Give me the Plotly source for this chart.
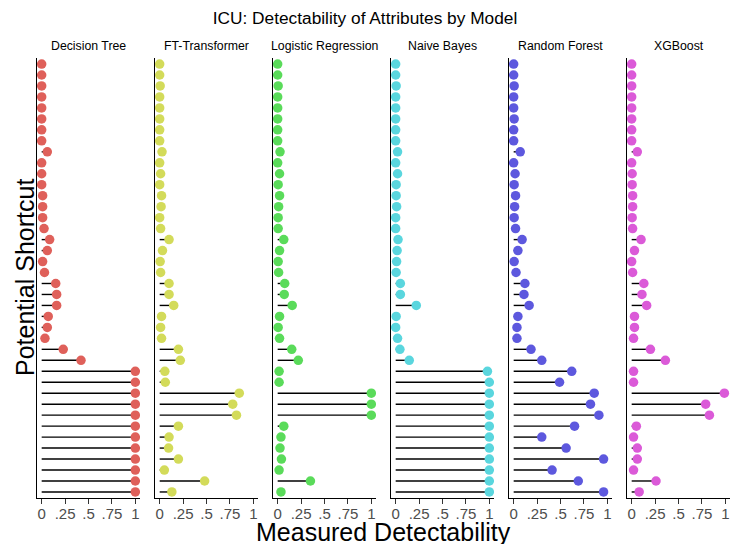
import plotly.graph_objects as go

models = ["Decision Tree", "FT-Transformer", "Logistic Regression",
          "Naive Bayes", "Random Forest", "XGBoost"]
colors = ["#DF605A", "#D3DB5A", "#5ADB5A", "#5AD6DE", "#5D58DE", "#DB5AD8"]

# 40 potential shortcuts, listed from top row to bottom row
shortcuts = [f"Attribute {i}" for i in range(1, 41)]

decision_tree = [0, 0, 0, 0, 0, 0, 0, 0, 0.06, 0,
                 0, 0, 0.01, 0.01, 0.01, 0.025, 0.085, 0.06, 0.01, 0.03,
                 0.15, 0.16, 0.16, 0.07, 0.06, 0.035, 0.23, 0.42, 1, 1,
                 1, 1, 1, 1, 1, 1, 1, 1, 1, 1]
ft_transformer = [0, 0, 0.005, 0, 0, 0, 0, 0, 0.025, 0,
                  0.01, 0, 0.02, 0.015, 0, 0.01, 0.1, 0.03, 0.005, 0.01,
                  0.1, 0.1, 0.15, 0.02, 0.01, 0.02, 0.2, 0.22, 0.055, 0.06,
                  0.85, 0.78, 0.82, 0.2, 0.1, 0.095, 0.2, 0.05, 0.48, 0.13]
logistic_regression = [0, 0, 0.005, 0, 0, 0, 0, 0, 0.025, 0,
                       0.02, 0.005, 0.02, 0.01, 0.005, 0.005, 0.065, 0.02, 0.005, 0.01,
                       0.075, 0.07, 0.155, 0.02, 0.005, 0.02, 0.15, 0.22, 0.015, 0.015,
                       1, 1, 1, 0.065, 0.035, 0.025, 0.04, 0.015, 0.35, 0.035]
naive_bayes = [0, 0, 0.005, 0, 0, 0, 0, 0, 0.02, 0,
               0.02, 0.005, 0.005, 0.01, 0, 0, 0.025, 0.015, 0.01, 0.005,
               0.05, 0.05, 0.22, 0.005, 0, 0.02, 0.045, 0.145, 0.98, 1,
               1, 1, 1, 1, 1, 1, 1, 1, 1, 1]
random_forest = [0, 0, 0.005, 0, 0, 0.005, 0, 0, 0.07, 0,
                 0.015, 0.005, 0.02, 0.01, 0.005, 0.02, 0.09, 0.045, 0.005, 0.025,
                 0.12, 0.11, 0.165, 0.045, 0.035, 0.035, 0.185, 0.3, 0.62, 0.49,
                 0.86, 0.82, 0.91, 0.65, 0.3, 0.56, 0.96, 0.41, 0.69, 0.96]
xgboost = [0, 0, 0, 0, 0, 0, 0, 0, 0.06, 0,
           0.005, 0.005, 0.01, 0.01, 0.005, 0.01, 0.1, 0.03, 0, 0.01,
           0.13, 0.11, 0.16, 0.03, 0.03, 0.02, 0.2, 0.36, 0.02, 0.02,
           0.99, 0.79, 0.83, 0.05, 0.02, 0.06, 0.06, 0.02, 0.26, 0.08]

values = [decision_tree, ft_transformer, logistic_regression,
          naive_bayes, random_forest, xgboost]

tick_vals = [0, 0.25, 0.5, 0.75, 1]
tick_text = ["0", ".25", ".5", ".75", "1"]

n = len(shortcuts)
ypos = list(range(n, 0, -1))  # first shortcut at top

fig = go.Figure()

plot_w = 693.0
panel_w = 103.0
step = 118.0

for i, (m, vals, col) in enumerate(zip(models, values, colors)):
    xa = "x" if i == 0 else f"x{i+1}"
    ya = "y" if i == 0 else f"y{i+1}"
    lx, ly = [], []
    for v, y in zip(vals, ypos):
        lx += [0, v, None]
        ly += [y, y, None]
    fig.add_trace(go.Scatter(x=lx, y=ly, mode="lines",
                             line=dict(color="black", width=1.4),
                             xaxis=xa, yaxis=ya, showlegend=False,
                             hoverinfo="skip"))
    fig.add_trace(go.Scatter(x=vals, y=ypos, mode="markers",
                             marker=dict(color=col, size=9.5),
                             text=shortcuts, name=m,
                             xaxis=xa, yaxis=ya, showlegend=False))
    d0 = i * step / plot_w
    d1 = (i * step + panel_w) / plot_w
    fig.layout[f"xaxis{'' if i == 0 else i+1}"] = dict(
        domain=[d0, d1], range=[-0.05, 1.05], anchor=ya,
        tickvals=tick_vals, ticktext=tick_text,
        ticks="outside", ticklen=5, tickcolor="#333333", tickwidth=1,
        tickfont=dict(size=15, color="#4d4d4d"), ticklabelstandoff=-3,
        showline=True, linecolor="black", linewidth=1,
        showgrid=False, zeroline=False, fixedrange=True, automargin=False)
    fig.layout[f"yaxis{'' if i == 0 else i+1}"] = dict(
        domain=[0, 1], range=[0.45, n + 0.55], anchor=xa,
        showticklabels=False, ticks="",
        showline=True, linecolor="black", linewidth=1.2,
        showgrid=False, zeroline=False, fixedrange=True, automargin=False)
    fig.add_annotation(text=m, x=(d0 + d1) / 2, y=1.0, xref="paper", yref="paper",
                       xanchor="center", yanchor="bottom", yshift=3, showarrow=False,
                       font=dict(size=12.3, color="black"))

fig.add_annotation(text="Potential Shortcut", x=-12 / plot_w, y=0.5,
                   xref="paper", yref="paper", xanchor="center", yanchor="middle",
                   textangle=-90, showarrow=False,
                   font=dict(size=25, color="black"))
fig.add_annotation(text="Measured Detectability", x=0.5, y=0, xref="paper",
                   yref="paper", xanchor="center", yanchor="middle", yshift=-34,
                   showarrow=False, font=dict(size=25, color="black"))

fig.update_layout(
    width=730, height=544,
    margin=dict(l=37, r=0, t=58, b=46),
    paper_bgcolor="white", plot_bgcolor="white",
    font=dict(family="Liberation Sans, Arial, sans-serif", color="black"),
    title=dict(text="ICU: Detectability of Attributes by Model",
               x=0.5, xanchor="center", y=0.967, yanchor="middle",
               font=dict(size=17.3, color="black")),
)

fig.write_html("out.html", config={"displayModeBar": False},
               post_script="document.body.style.margin='0';")
